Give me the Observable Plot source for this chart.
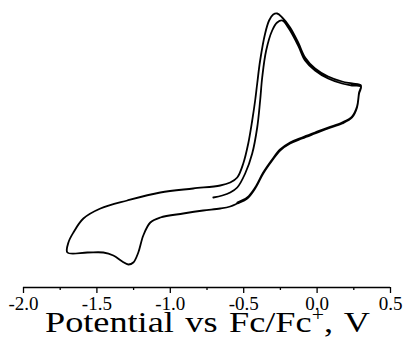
<!DOCTYPE html>
<html>
<head>
<meta charset="utf-8">
<script src="https://cdn.jsdelivr.net/npm/d3@7"></script>
<script src="https://cdn.jsdelivr.net/npm/@observablehq/plot@0.6"></script>
<style>
  html, body { margin: 0; padding: 0; background: #fff; }
  #wrap { position: relative; width: 403px; height: 346px; overflow: hidden; }
  #title { position: absolute; top: 315px; left: 0; width: 415px; text-align: center;
           font-family: "Liberation Serif", serif; font-size: 30px;
           line-height: 14px; white-space: nowrap; color: #000; word-spacing: 2px; }
  #title span { display: inline-block; transform-origin: center; line-height: 14px; }
  #title sup { font-size: 60%; line-height: 0; vertical-align: 0.6em; }
</style>
</head>
<body>
<div id="wrap">
  <div id="chart"></div>
  <div id="title"><span id="t">Potential vs Fc/Fc<sup>+</sup>, V</span></div>
</div>
<script>
// Potential (V vs Fc/Fc+) in scan order
const potential = [
  // first anodic scan (starts at -0.7 V)
  -0.707, -0.646, -0.592, -0.544, -0.490, -0.442, -0.408, -0.388, -0.374, -0.347,
  -0.306, -0.272, -0.238, -0.197, -0.129, -0.082, -0.014, 0.075, 0.170, 0.238, 0.299,
  // cathodic return
  0.286, 0.272, 0.238, 0.170, 0.075, -0.014, -0.102, -0.184, -0.252, -0.306,
  -0.367, -0.422, -0.476, -0.544, -0.592, -0.660, -0.776, -0.912, -1.068, -1.136,
  -1.184, -1.218, -1.252, -1.286, -1.327, -1.388, -1.456, -1.565, -1.701,
  // second anodic scan
  -1.694, -1.660, -1.592, -1.476, -1.293, -1.068, -0.844, -0.660, -0.592, -0.544,
  -0.503, -0.469, -0.442, -0.422, -0.408, -0.388, -0.354, -0.327, -0.299, -0.272,
  -0.238, -0.184, -0.129, -0.082, -0.014, 0.075, 0.170, 0.238, 0.299,
  // second cathodic return (partial)
  0.286, 0.272, 0.238, 0.170, 0.075, -0.014, -0.102, -0.184, -0.252, -0.306,
  -0.367, -0.422, -0.476, -0.544
];
// Current (arbitrary units, µA) in scan order
const current = [
  9.0, 9.2, 9.5, 10.0, 11.4, 13.4, 16.0, 18.7, 21.0, 23.7,
  25.7, 26.5, 26.7, 26.0, 24.2, 22.7, 21.7, 20.9, 20.4, 20.2, 20.1,
  19.4, 18.0, 17.0, 16.4, 15.9, 15.4, 14.9, 14.4, 13.7, 12.7,
  11.4, 9.9, 8.9, 8.4, 8.1, 7.9, 7.7, 7.4, 7.0, 6.5,
  5.2, 3.5, 2.5, 2.3, 2.6, 3.2, 3.5, 3.5, 3.5,
  4.5, 5.5, 6.9, 7.9, 8.7, 9.5, 9.9, 10.2, 10.5, 11.0,
  12.4, 14.4, 16.7, 18.7, 20.4, 22.7, 25.4, 26.7, 27.3, 27.4,
  27.0, 26.0, 24.5, 23.0, 21.9, 21.1, 20.6, 20.4, 20.2,
  19.5, 18.1, 17.1, 16.5, 16.0, 15.5, 15.0, 14.5, 13.8, 12.8,
  11.5, 10.0, 9.0, 8.5
];
const majorTicks = [-2.0, -1.5, -1.0, -0.5, 0.0, 0.5];
const minorTicks = [-1.75, -1.25, -0.75, -0.25, 0.25];

const data = potential.map((v, k) => ({v, i: current[k]}));

const chart = Plot.plot({
  width: 403,
  height: 312,
  marginLeft: 23,
  marginRight: 13,
  marginTop: 0,
  marginBottom: 25,
  x: {domain: [-2, 0.5], label: null},
  y: {domain: [0, 28.7], axis: null, label: null},
  style: {
    fontFamily: "Liberation Serif, serif",
    fontSize: "19px",
    background: "white",
    color: "black",
    overflow: "visible"
  },
  marks: [
    Plot.ruleY([0], {stroke: "black", strokeWidth: 1.5}),
    Plot.axisX({ticks: majorTicks, tickSize: 6, tickPadding: 3, strokeWidth: 1.3,
                tickFormat: d => d.toFixed(1), label: null,
                fontSize: 19, fontFamily: "Liberation Serif, serif"}),
    Plot.axisX({ticks: minorTicks, tickSize: 3, strokeWidth: 1.3,
                tickFormat: () => "", label: null}),
    Plot.line(data, {x: "v", y: "i", curve: "catmull-rom", stroke: "black", strokeWidth: 1.8})
  ]
});
document.getElementById("chart").appendChild(chart);
chart.querySelectorAll("text").forEach(el => {
  el.style.fontSize = "19px";
  el.style.fontFamily = "Liberation Serif, serif";
  el.setAttribute("fill", "#000");
});

const t = document.getElementById("t");
const w = t.getBoundingClientRect().width;
t.style.transform = `scaleX(${325 / w})`;
</script>
</body>
</html>
